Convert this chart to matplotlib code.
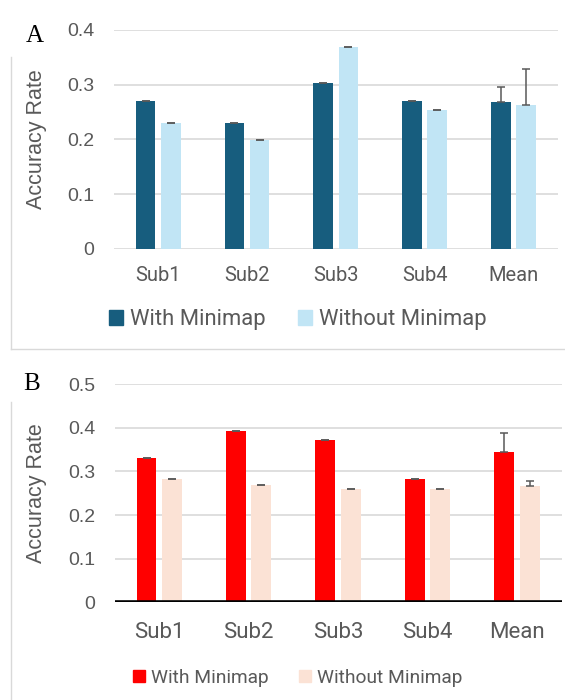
import numpy as np
import matplotlib.pyplot as plt
from matplotlib.lines import Line2D

categories = ["Sub1", "Sub2", "Sub3", "Sub4", "Mean"]
series_names = ["With Minimap", "Without Minimap"]

a_with = [0.270, 0.231, 0.303, 0.270, 0.269]
a_without = [0.231, 0.199, 0.369, 0.254, 0.263]
a_with_err = [0, 0, 0, 0, 0.026]
a_without_err = [0, 0, 0, 0, 0.066]

b_with = [0.332, 0.393, 0.373, 0.282, 0.345]
b_without = [0.282, 0.268, 0.260, 0.260, 0.267]
b_with_err = [0, 0, 0, 0, 0.043]
b_without_err = [0, 0, 0, 0, 0.011]

a_ticks = [0, 0.1, 0.2, 0.3, 0.4]
a_ticklabels = ["0", "0.1", "0.2", "0.3", "0.4"]
b_ticks = [0, 0.1, 0.2, 0.3, 0.4, 0.5]
b_ticklabels = ["0", "0.1", "0.2", "0.3", "0.4", "0.5"]

txt_gray = "#595959"
grid_gray = "#D9D9D9"

fig = plt.figure(figsize=(5.65, 7), dpi=100)


def draw_panel(ax, with_vals, without_vals, with_err, without_err, colors,
               ticks, ticklabels, ymax, bold_base, cat_size, cat_pad):
    x = np.arange(len(categories))
    w = 0.222
    off = 0.142
    zeros = [0] * len(categories)
    ax.bar(x - off, with_vals, w, color=colors[0], zorder=3,
           yerr=[zeros, with_err], ecolor=txt_gray,
           error_kw=dict(lw=1.1, capsize=2.6, capthick=1.1, zorder=4))
    ax.bar(x + off, without_vals, w, color=colors[1], zorder=3,
           yerr=[zeros, without_err], ecolor=txt_gray,
           error_kw=dict(lw=1.1, capsize=2.6, capthick=1.1, zorder=4))
    ax.set_xlim(-0.5, len(categories) - 0.5)
    ax.set_ylim(0, ymax)
    ax.set_yticks(ticks)
    ax.set_yticklabels(ticklabels, family="Liberation Sans", fontsize=14,
                       color=txt_gray)
    ax.set_xticks(x)
    ax.set_xticklabels(categories, family="Roboto", fontsize=cat_size,
                       color=txt_gray)
    ax.tick_params(axis="y", length=0, pad=14)
    ax.tick_params(axis="x", length=0, pad=cat_pad)
    for s in ax.spines.values():
        s.set_visible(False)
    for t in ticks:
        if t == 0 and bold_base:
            ax.axhline(0, color="black", lw=2.6, zorder=5)
        else:
            ax.axhline(t, color=grid_gray, lw=1.2, zorder=1)
    ax.set_ylabel("Accuracy Rate", family="Liberation Sans", fontsize=15.5,
                  color=txt_gray)
    ax.yaxis.set_label_coords(-0.15, 0.5)


# panel A
axA = fig.add_axes([0.2014, 0.6443, 0.786, 0.3129])
draw_panel(axA, a_with, a_without, a_with_err, a_without_err,
           ["#175D7E", "#C1E5F5"], a_ticks, a_ticklabels, 0.4, False, 14.5, 12)
hA = [plt.Rectangle((0, 0), 1, 1, color=c) for c in ["#175D7E", "#C1E5F5"]]
fig.legend(hA, series_names, loc="center", bbox_to_anchor=(0.527, 0.543),
           ncol=2, frameon=False, prop={"family": "Roboto", "size": 15.8},
           labelcolor=txt_gray, handlelength=0.64, handleheight=0.64,
           handletextpad=0.32, columnspacing=1.45)

# panel B
axB = fig.add_axes([0.2027, 0.1396, 0.7915, 0.3114])
draw_panel(axB, b_with, b_without, b_with_err, b_without_err,
           ["#FF0000", "#FBE2D5"], b_ticks, b_ticklabels, 0.5, True, 16, 14)
hB = [plt.Rectangle((0, 0), 1, 1, color=c) for c in ["#FF0000", "#FBE2D5"]]
fig.legend(hB, series_names, loc="center", bbox_to_anchor=(0.527, 0.032),
           ncol=2, frameon=False, prop={"family": "Roboto", "size": 13.8},
           labelcolor=txt_gray, handlelength=0.61, handleheight=0.61,
           handletextpad=0.35, columnspacing=1.56)

# panel letters
fig.text(0.062, 0.949, "A", family="Liberation Serif", fontsize=18,
         ha="center", va="center")
fig.text(0.056, 0.452, "B", family="Liberation Serif", fontsize=18,
         ha="center", va="center")

# light chart-area frame pieces
fig.add_artist(Line2D([11 / 565, 11 / 565], [1 - 57 / 700, 1 - 349 / 700],
                      transform=fig.transFigure, color=grid_gray, lw=1))
fig.add_artist(Line2D([11 / 565, 1], [1 - 349 / 700, 1 - 349 / 700],
                      transform=fig.transFigure, color=grid_gray, lw=1))
fig.add_artist(Line2D([11 / 565, 11 / 565], [1 - 402 / 700, 0],
                      transform=fig.transFigure, color=grid_gray, lw=1))

fig.savefig("out.png", dpi=100)
